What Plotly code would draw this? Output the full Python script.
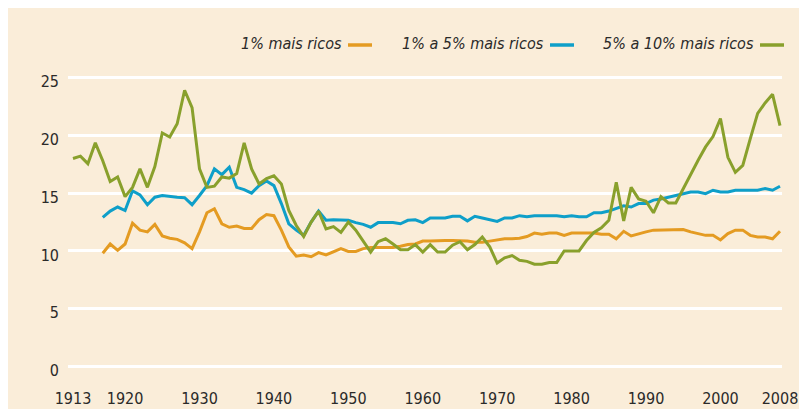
import plotly.graph_objects as go

years_top1 = list(range(1917, 2009))
top1 = [9.8, 10.6, 10.05, 10.6, 12.4, 11.8, 11.65, 12.3, 11.3, 11.1,
        11.0, 10.7, 10.2, 11.65, 13.3, 13.65, 12.35, 12.05, 12.15, 11.95,
        11.95, 12.7, 13.15, 13.05, 11.8, 10.35, 9.55, 9.65, 9.5, 9.85,
        9.65, 9.95, 10.2, 9.95, 9.95, 10.2, 10.3, 10.3, 10.3, 10.3,
        10.4, 10.55, 10.6, 10.85, 10.85, 10.9, 10.9, 10.9, 10.9, 10.85,
        10.75, 10.75, 10.85, 10.95, 11.05, 11.05, 11.1, 11.25, 11.55, 11.45,
        11.55, 11.55, 11.35, 11.55, 11.55, 11.55, 11.55, 11.45, 11.45, 11.05,
        11.7, 11.3, 11.5, 11.65, 11.8, 11.8, 11.85, 11.85, 11.85, 11.65,
        11.5, 11.35, 11.35, 10.95, 11.5, 11.8, 11.8, 11.35, 11.2, 11.2,
        11.05, 11.7]

years_top1_5 = list(range(1917, 2009))
top1_5 = [12.9, 13.45, 13.8, 13.5, 15.2, 14.85, 14.0, 14.65, 14.8, 14.7,
          14.65, 14.6, 14.0, 14.8, 15.65, 17.1, 16.6, 17.25, 15.5, 15.3,
          15.0, 15.65, 16.05, 15.65, 14.1, 12.35, 11.8, 11.35, 12.5, 13.45,
          12.65, 12.7, 12.7, 12.65, 12.45, 12.3, 12.05, 12.45, 12.45, 12.45,
          12.35, 12.65, 12.7, 12.45, 12.85, 12.85, 12.85, 13.0, 13.0, 12.6,
          13.0, 12.85, 12.7, 12.55, 12.85, 12.85, 13.05, 12.95, 13.05, 13.05,
          13.05, 13.05, 12.95, 13.05, 12.95, 12.95, 13.3, 13.3, 13.45, 13.65,
          13.9, 13.8, 14.1, 14.1, 14.4, 14.5, 14.65, 14.8, 15.0, 15.1,
          15.1, 14.95, 15.25, 15.1, 15.1, 15.25, 15.25, 15.25, 15.25, 15.4,
          15.25, 15.6]

years_top5_10 = list(range(1913, 2009))
top5_10 = [18.0, 18.2, 17.55, 19.35, 17.8, 16.0, 16.4, 14.7, 15.5, 17.1,
           15.5, 17.3, 20.2, 19.85, 21.0, 23.9, 22.4, 17.1, 15.5, 15.6,
           16.4, 16.3, 16.7, 19.35, 17.1, 15.8, 16.25, 16.5, 15.8, 13.5,
           12.2, 11.25, 12.5, 13.45, 11.9, 12.1, 11.6, 12.5, 11.8, 10.8,
           9.9, 10.8, 11.05, 10.6, 10.1, 10.1, 10.55, 9.9, 10.55, 9.9,
           9.9, 10.5, 10.8, 10.1, 10.55, 11.2, 10.35, 8.95, 9.4, 9.6,
           9.2, 9.1, 8.85, 8.85, 9.0, 9.0, 10.0, 10.0, 10.0, 10.9,
           11.6, 12.0, 12.65, 15.95, 12.6, 15.5, 14.5, 14.3, 13.3, 14.7,
           14.15, 14.15, 15.4, 16.7, 17.85, 19.0, 19.9, 21.45, 18.1, 16.8,
           17.4, 19.7, 21.9, 22.8, 23.55, 20.85]

series_names = ["1% mais ricos", "1% a 5% mais ricos", "5% a 10% mais ricos"]
series_colors = ["#E49B22", "#0E9FC9", "#89A02C"]

x_ticks = [1913, 1920, 1930, 1940, 1950, 1960, 1970, 1980, 1990, 2000, 2008]
y_ticks = [0, 5, 10, 15, 20, 25]

BG = "#FAEDD9"
FONT = "DejaVu Sans Condensed"

L, R, T, B = 60, 33, 58, 47
PW, PH = 807 - L - R, 409 - T - B

fig = go.Figure()
for xs, ys, name, col in zip([years_top1, years_top1_5, years_top5_10],
                             [top1, top1_5, top5_10], series_names, series_colors):
    fig.add_trace(go.Scatter(x=xs, y=ys, mode="lines", name=name,
                             line=dict(color=col, width=3), showlegend=False))

# legend drawn as text followed by a short line swatch (as in the reference)
legend_text_right = [333, 535, 745]
legend_y = 36
for name, col, xr in zip(series_names, series_colors, legend_text_right):
    fig.add_annotation(xref="paper", yref="paper",
                       x=(xr - L) / PW, y=(409 - legend_y - B) / PH,
                       text="<i>" + name + "</i>", showarrow=False,
                       xanchor="right", yanchor="middle", xshift=3,
                       font=dict(family=FONT, size=16, color="#2B2A29"))
    fig.add_shape(type="line", xref="paper", yref="paper",
                  x0=(xr + 7 - L) / PW, x1=(xr + 31 - L) / PW,
                  y0=(409 - legend_y - 1 - B) / PH, y1=(409 - legend_y - 1 - B) / PH,
                  line=dict(color=col, width=3.5))

fig.update_layout(
    width=807, height=409,
    margin=dict(l=L, r=R, t=T, b=B),
    paper_bgcolor=BG, plot_bgcolor=BG,
    font=dict(family=FONT, size=16, color="#2B2A29"),
    xaxis=dict(range=[1912.33, 2008.27], tickvals=x_ticks,
               ticktext=[str(v) for v in x_ticks], automargin=False,
               showgrid=False, zeroline=False, showline=False,
               ticks="", ticklabelstandoff=17),
    yaxis=dict(range=[-0.3, 26], tickvals=y_ticks, automargin=False,
               showgrid=True, gridcolor="white", gridwidth=3,
               zeroline=False, showline=False, ticks="", ticklabelstandoff=8,
               ticklabelshift=4),
)

fig.write_html("out.html")
